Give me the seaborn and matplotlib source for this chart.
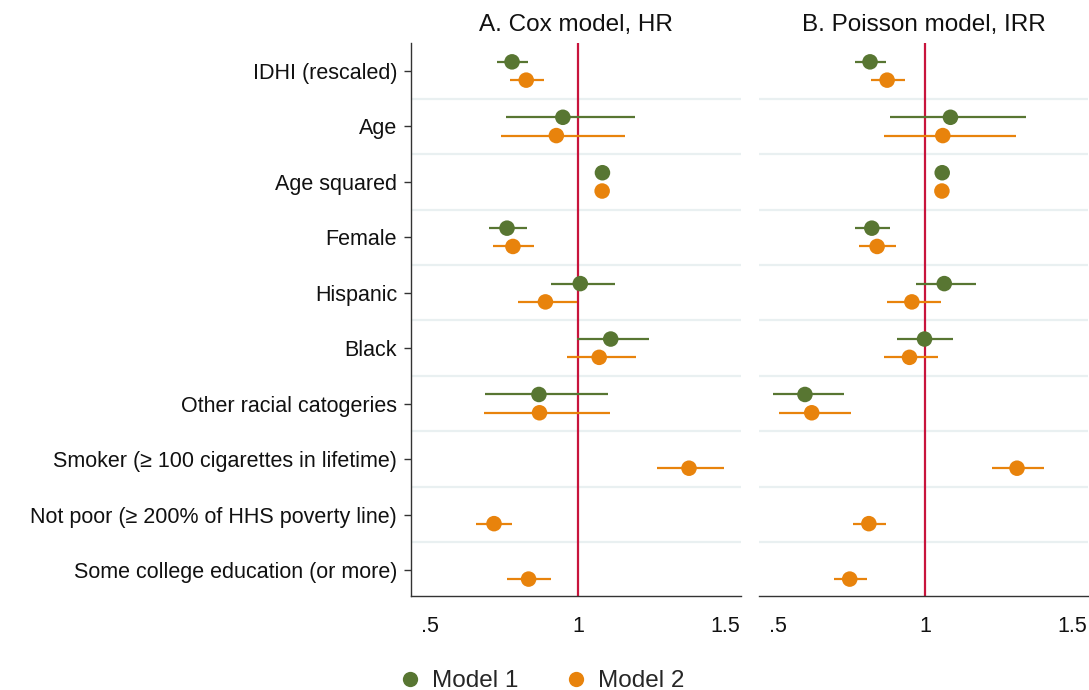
import numpy as np
import pandas as pd
import matplotlib
matplotlib.use("Agg")
import matplotlib.pyplot as plt
import seaborn as sns
from matplotlib.lines import Line2D

sns.set_theme(style="white")
plt.rcParams['font.family'] = ['Liberation Sans', 'DejaVu Sans']

variables = ["IDHI (rescaled)", "Age", "Age squared", "Female", "Hispanic", "Black",
             "Other racial catogeries", "Smoker (\u2265 100 cigarettes in lifetime)",
             "Not poor (\u2265 200% of HHS poverty line)", "Some college education (or more)"]

# Panel A: Cox model, HR
cox_m1_est = [0.777, 0.949, 1.083, 0.760, 1.008, 1.111, 0.868, None, None, None]
cox_m1_lo  = [0.726, 0.758, 1.079, 0.699, 0.908, 0.997, 0.684, None, None, None]
cox_m1_hi  = [0.830, 1.192, 1.087, 0.828, 1.124, 1.239, 1.103, None, None, None]
cox_m2_est = [0.825, 0.927, 1.082, 0.780, 0.890, 1.072, 0.870, 1.376, 0.716, 0.833]
cox_m2_lo  = [0.771, 0.741, 1.078, 0.714, 0.797, 0.963, 0.682, 1.267, 0.656, 0.761]
cox_m2_hi  = [0.886, 1.159, 1.086, 0.852, 0.997, 1.195, 1.108, 1.493, 0.778, 0.910]

# Panel B: Poisson model, IRR
poi_m1_est = [0.812, 1.085, 1.057, 0.818, 1.064, 0.997, 0.591, None, None, None]
poi_m1_lo  = [0.762, 0.879, 1.053, 0.762, 0.969, 0.905, 0.484, None, None, None]
poi_m1_hi  = [0.866, 1.340, 1.061, 0.880, 1.172, 1.093, 0.725, None, None, None]
poi_m2_est = [0.870, 1.059, 1.056, 0.836, 0.954, 0.946, 0.614, 1.311, 0.808, 0.743]
poi_m2_lo  = [0.814, 0.860, 1.052, 0.775, 0.868, 0.860, 0.502, 1.225, 0.754, 0.688]
poi_m2_hi  = [0.931, 1.306, 1.060, 0.901, 1.052, 1.042, 0.749, 1.404, 0.867, 0.801]

models = ["Model 1", "Model 2"]
panel_titles = ["A. Cox model, HR", "B. Poisson model, IRR"]
xticks = [0.5, 1, 1.5]
xticklabels = [".5", "1", "1.5"]

colors = {"Model 1": "#587632", "Model 2": "#E8830C"}
offsets = {"Model 1": -0.165, "Model 2": 0.165}
ref_color = "#C8143C"
grid_color = "#E9F0F1"

rows = []
for panel, data in zip(panel_titles, [
        [(cox_m1_est, cox_m1_lo, cox_m1_hi), (cox_m2_est, cox_m2_lo, cox_m2_hi)],
        [(poi_m1_est, poi_m1_lo, poi_m1_hi), (poi_m2_est, poi_m2_lo, poi_m2_hi)]]):
    for model, (est, lo, hi) in zip(models, data):
        for i, v in enumerate(variables):
            if est[i] is None:
                continue
            rows.append(dict(panel=panel, model=model, variable=v, idx=i,
                             y=i + offsets[model], est=est[i], lo=lo[i], hi=hi[i]))
df = pd.DataFrame(rows)

W, H = 1089, 690
fig = plt.figure(figsize=(W / 100, H / 100), dpi=100)
axA = fig.add_axes([411 / W, 1 - 596 / H, 330 / W, 553 / H])
axB = fig.add_axes([759 / W, 1 - 596 / H, 329 / W, 553 / H])

for ax, panel in zip([axA, axB], panel_titles):
    sub = df[df.panel == panel]
    for k in np.arange(0.5, len(variables) - 1, 1.0):
        ax.axhline(k, color=grid_color, lw=1.6, zorder=0)
    ax.axvline(1, color=ref_color, lw=1.6, zorder=1)
    for model in models:
        s = sub[sub.model == model]
        ax.hlines(s.y, s.lo, s.hi, color=colors[model], lw=1.6, zorder=2)
    sns.scatterplot(data=sub, x="est", y="y", hue="model", palette=colors,
                    hue_order=models, s=125, edgecolor="none", linewidth=0,
                    legend=False, ax=ax, zorder=3)
    ax.set_xlim(0.435, 1.552)
    ax.set_ylim(len(variables) - 0.53, -0.505)
    ax.set_xticks(xticks)
    ax.set_xticklabels(xticklabels, fontsize=15.5, color="#111111")
    ax.set_xlabel("")
    ax.set_ylabel("")
    ax.set_title(panel, fontsize=17.5, pad=9, color="#111111")
    for sp in ["top", "right"]:
        ax.spines[sp].set_visible(False)
    ax.spines["bottom"].set_color("#333333")
    ax.spines["bottom"].set_linewidth(1.0)
    ax.tick_params(axis="x", direction="out", length=6.5, width=1.0, color="#333333", pad=8)
    ax.grid(False)

axA.set_yticks(range(len(variables)))
axA.set_yticklabels(variables, fontsize=15.5, color="#111111")
axA.spines["left"].set_color("#333333")
axA.spines["left"].set_linewidth(1.0)
axA.tick_params(axis="y", direction="out", length=5, width=1.0, color="#333333", left=True, pad=5)

axB.set_yticks([])
axB.spines["left"].set_visible(False)

handles = [Line2D([0], [0], marker="o", color="none", markerfacecolor=colors[m],
                  markeredgecolor="none", markersize=11, label=m) for m in models]
fig.legend(handles=handles, loc="center", bbox_to_anchor=(541 / W, 9 / H), ncol=2,
           frameon=False, fontsize=17.5, handletextpad=0.4, columnspacing=1.9,
           handlelength=1.0, borderpad=0.0)

fig.savefig("out.png", dpi=100, facecolor="white")
